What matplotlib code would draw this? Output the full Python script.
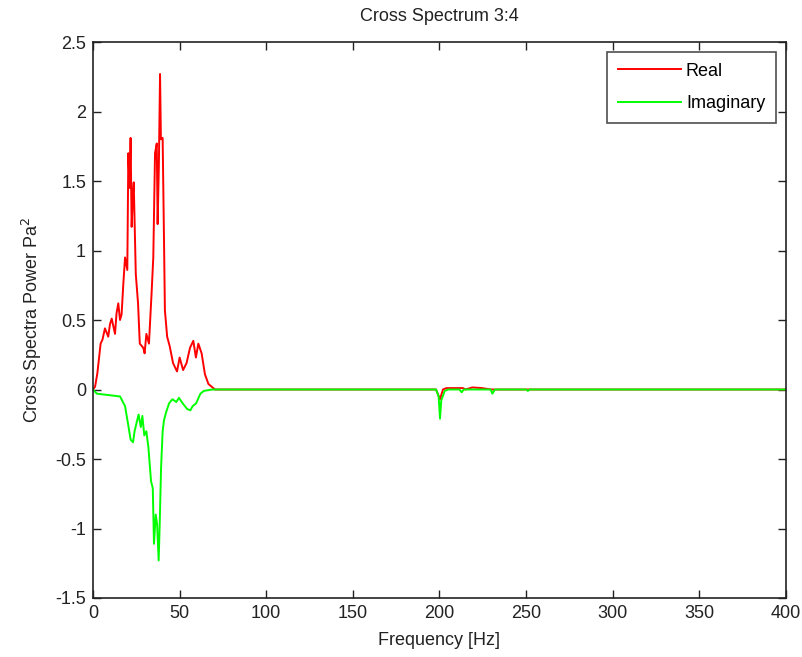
import matplotlib
matplotlib.use("Agg")
import matplotlib.pyplot as plt

# Real part of the cross spectrum (frequency in Hz, power in Pa^2)
real_freq = [0, 1.2, 2.5, 4.4, 5.5, 6.9, 8.8, 9.8, 10.8, 12.7, 13.6, 14.6, 15.6, 16.5,
             17.5, 18.5, 19.8, 20.4, 21.1, 21.7, 22.3, 23.0, 23.5, 24.7, 26.0, 27.0,
             29.0, 29.8, 30.8, 32.3, 33.8, 34.8, 35.8, 36.8, 37.3, 38.0, 38.7, 39.2,
             40.2, 41.0, 41.5, 42.8, 44.3, 46.2, 48.5, 50.0, 52.0, 54.0, 56.0, 57.9,
             59.4, 60.8, 62.7, 64.6, 66.6, 70.4, 75.0, 198.0, 200.3, 202.0, 204.0,
             213.6, 215.0, 219.0, 224.5, 230.0, 400.0]
real_vals = [0.0, 0.02, 0.115, 0.33, 0.36, 0.44, 0.38, 0.47, 0.51, 0.40, 0.55, 0.62,
             0.50, 0.54, 0.76, 0.95, 0.86, 1.70, 1.45, 1.81, 1.17, 1.40, 1.49, 0.83,
             0.62, 0.33, 0.30, 0.26, 0.40, 0.33, 0.69, 0.95, 1.70, 1.77, 1.19, 1.60,
             2.27, 1.80, 1.81, 1.06, 0.57, 0.38, 0.31, 0.19, 0.13, 0.23, 0.14, 0.19,
             0.30, 0.35, 0.23, 0.33, 0.26, 0.11, 0.04, 0.0, 0.0, 0.0, -0.07, 0.0,
             0.01, 0.01, 0.0, 0.015, 0.01, 0.0, 0.0]

# Imaginary part of the cross spectrum
imag_freq = [0, 2.2, 15.6, 18.5, 20.4, 21.7, 23.1, 24.0, 26.3, 27.6, 28.5, 29.6,
             30.8, 32.0, 33.5, 34.5, 35.2, 36.2, 37.0, 37.9, 38.5, 39.3, 40.2, 41.0,
             42.3, 43.9, 45.8, 48.1, 49.6, 51.8, 54.3, 56.2, 57.5, 59.5, 62.0, 64.0,
             68.8, 72.7, 198.0, 199.5, 200.3, 201.0, 203.0, 205.0, 211.5, 212.8,
             214.0, 229.5, 230.5, 232.0, 250.0, 251.0, 252.0, 400.0]
imag_vals = [0.0, -0.03, -0.05, -0.12, -0.26, -0.36, -0.38, -0.30, -0.18, -0.27,
             -0.19, -0.33, -0.30, -0.42, -0.66, -0.71, -1.11, -0.90, -0.97, -1.23,
             -0.97, -0.56, -0.30, -0.22, -0.16, -0.10, -0.07, -0.09, -0.06, -0.10,
             -0.14, -0.15, -0.12, -0.10, -0.03, -0.01, 0.0, 0.0, 0.0, -0.05, -0.21,
             -0.08, -0.01, 0.0, 0.0, -0.02, 0.0, 0.0, -0.03, 0.0, 0.0, -0.01, 0.0, 0.0]

x_ticks = [0, 50, 100, 150, 200, 250, 300, 350, 400]
y_ticks = [-1.5, -1, -0.5, 0, 0.5, 1, 1.5, 2, 2.5]
y_tick_labels = ["-1.5", "-1", "-0.5", "0", "0.5", "1", "1.5", "2", "2.5"]

plt.rcParams["font.family"] = ["Liberation Sans", "DejaVu Sans"]

fig = plt.figure(figsize=(8.03, 6.57), dpi=100)
ax = fig.add_axes([93 / 803, 59 / 657, 693 / 803, 556 / 657])

ax.plot(real_freq, real_vals, color="#ff0000", lw=1.4, label="Real")
ax.plot(imag_freq, imag_vals, color="#00ff00", lw=1.4, label="Imaginary")

ax.set_xlim(0, 400)
ax.set_ylim(-1.5, 2.5)
ax.set_xticks(x_ticks)
ax.set_xticklabels([str(t) for t in x_ticks])
ax.set_yticks(y_ticks)
ax.set_yticklabels(y_tick_labels)
ax.tick_params(direction="in", top=True, right=True, length=6, width=1,
               labelsize=13, colors="#222222", pad=5)
for s in ax.spines.values():
    s.set_linewidth(1.2)
    s.set_color("#222222")

ax.set_title("Cross Spectrum 3:4", fontsize=13, pad=15, color="#222222")
ax.set_xlabel("Frequency [Hz]", fontsize=13, labelpad=7, color="#222222")
ax.set_ylabel("Cross Spectra Power Pa$^2$", fontsize=13, labelpad=8, color="#222222")

leg = ax.legend(loc="upper right", fontsize=13, frameon=True, fancybox=False,
                edgecolor="#222222", borderpad=0.6, handlelength=3.5,
                handletextpad=0.25, borderaxespad=0.55, labelspacing=0.85)
leg.get_frame().set_linewidth(1.2)

fig.savefig("out.png", dpi=100)
